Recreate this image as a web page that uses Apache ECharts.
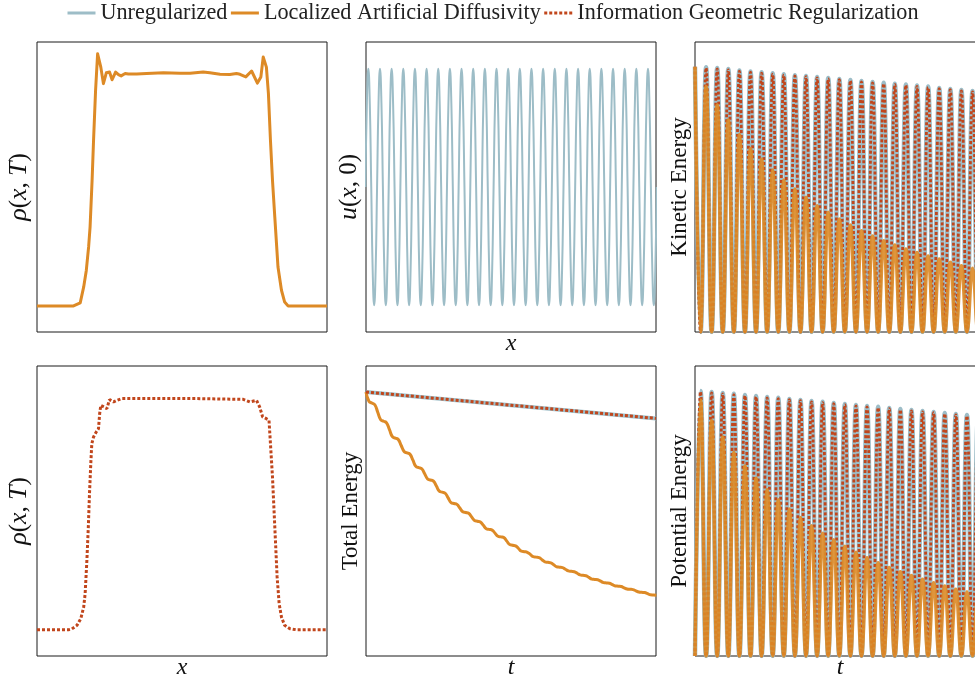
<!DOCTYPE html>
<html><head><meta charset="utf-8">
<script src="https://cdn.jsdelivr.net/npm/echarts@6/dist/echarts.min.js"></script>
<style>html,body{margin:0;padding:0;background:#fff}#c{width:975px;height:679px}</style>
</head><body><div id="c"></div>
<script>
// ---------- data ----------
// rho(x,T), Localized Artificial Diffusivity (x in [0,1])
const rhoLadX = [0,0.126,0.132,0.149,0.161,0.170,0.178,0.183,0.190,0.195,0.202,0.209,0.220,0.229,0.239,0.250,0.259,0.271,0.281,0.290,0.304,0.315,0.321,0.344,0.378,0.436,0.493,0.528,0.573,0.596,0.631,0.665,0.688,0.700,0.720,0.740,0.760,0.772,0.780,0.791,0.798,0.805,0.812,0.820,0.831,0.843,0.854,0.866,1];
const rhoLadY = [0.101,0.101,0.097,0.113,0.175,0.239,0.330,0.407,0.589,0.744,0.938,1.080,1.028,0.964,1.006,1.009,0.979,1.009,0.999,0.994,1.003,1.001,0.999,1.001,1.003,1.006,1.004,1.004,1.009,1.006,1.000,0.999,1.003,1.000,0.990,1.013,0.966,0.990,1.067,1.028,0.925,0.744,0.589,0.446,0.252,0.162,0.116,0.101,0.101];
// rho(x,T), Information Geometric Regularization
const rhoIgrX = [0,0.109,0.120,0.138,0.151,0.161,0.166,0.172,0.177,0.181,0.186,0.189,0.195,0.204,0.212,0.216,0.220,0.232,0.241,0.250,0.264,0.275,0.292,0.304,0.436,0.550,0.711,0.734,0.757,0.768,0.778,0.791,0.800,0.805,0.812,0.820,0.828,0.835,0.843,0.854,0.872,0.894,1];
const rhoIgrY = [0.102,0.102,0.105,0.119,0.145,0.190,0.242,0.371,0.501,0.630,0.759,0.824,0.850,0.869,0.882,0.940,0.973,0.966,0.960,0.995,0.986,0.992,0.999,0.999,0.999,0.999,0.996,0.986,0.992,0.966,0.928,0.921,0.915,0.824,0.695,0.501,0.307,0.203,0.151,0.119,0.106,0.102,0.102];
// u(x,0): samples every 1/8 period (index = sample number)
const uVals = [
0,0.707,1,0.707,0,-0.707,-1,-0.707, 0,0.707,1,0.707,0,-0.707,-1,-0.707, 0,0.707,1,0.707,0,-0.707,-1,-0.707, 0,0.707,1,0.707,0,-0.707,-1,-0.707, 0,0.707,1,0.707,0,-0.707,-1,-0.707,
0,0.707,1,0.707,0,-0.707,-1,-0.707, 0,0.707,1,0.707,0,-0.707,-1,-0.707, 0,0.707,1,0.707,0,-0.707,-1,-0.707, 0,0.707,1,0.707,0,-0.707,-1,-0.707, 0,0.707,1,0.707,0,-0.707,-1,-0.707,
0,0.707,1,0.707,0,-0.707,-1,-0.707, 0,0.707,1,0.707,0,-0.707,-1,-0.707, 0,0.707,1,0.707,0,-0.707,-1,-0.707, 0,0.707,1,0.707,0,-0.707,-1,-0.707, 0,0.707,1,0.707,0,-0.707,-1,-0.707,
0,0.707,1,0.707,0,-0.707,-1,-0.707, 0,0.707,1,0.707,0,-0.707,-1,-0.707, 0,0.707,1,0.707,0,-0.707,-1,-0.707, 0,0.707,1,0.707,0,-0.707,-1,-0.707, 0,0.707,1,0.707,0,-0.707,-1,-0.707,
0,0.707,1,0.707,0,-0.707,-1,-0.707, 0,0.707,1,0.707,0,-0.707,-1,-0.707, 0,0.707,1,0.707,0,-0.707,-1,-0.707, 0,0.707,1,0.707,0,-0.707,-1,-0.707, 0,0.707,1,0.707,0,-0.707,-1,-0.707,
0];
// Kinetic energy, one value per half period
const keUnreg = [1.000,0,0.998,0,0.995,0,0.991,0,0.986,0,0.982,0,0.979,0,0.975,0,0.971,0,0.968,0,0.965,0,0.961,0,0.957,0,0.954,0,0.950,0,0.946,0,0.942,0,0.939,0,0.936,0,0.933,0,0.929,0,0.925,0,0.920,0,0.916,0,0.912,0,0.908,0,0.905,0];
const keIgr   = [1.000,0,0.995,0,0.992,0,0.988,0,0.983,0,0.979,0,0.976,0,0.972,0,0.968,0,0.965,0,0.962,0,0.958,0,0.954,0,0.951,0,0.947,0,0.943,0,0.939,0,0.936,0,0.933,0,0.930,0,0.926,0,0.922,0,0.917,0,0.913,0,0.909,0,0.905,0,0.902,0];
const keLad   = [1.000,0,0.925,0,0.856,0,0.799,0,0.743,0,0.692,0,0.651,0,0.611,0,0.573,0,0.539,0,0.508,0,0.476,0,0.451,0,0.426,0,0.403,0,0.382,0,0.362,0,0.344,0,0.328,0,0.313,0,0.300,0,0.286,0,0.275,0,0.263,0,0.250,0,0.240,0,0.230,0];
// Potential energy, one value per half period
const peUnreg = [0,0.999,0,0.995,0,0.991,0,0.988,0,0.984,0,0.980,0,0.976,0,0.973,0,0.969,0,0.965,0,0.961,0,0.958,0,0.954,0,0.950,0,0.946,0,0.942,0,0.939,0,0.935,0,0.931,0,0.927,0,0.923,0,0.920,0,0.916,0,0.912,0,0.908,0,0.905,0,0.901];
const peIgr   = [0,0.996,0,0.992,0,0.988,0,0.985,0,0.981,0,0.977,0,0.973,0,0.970,0,0.966,0,0.962,0,0.958,0,0.955,0,0.951,0,0.947,0,0.943,0,0.939,0,0.936,0,0.932,0,0.928,0,0.924,0,0.920,0,0.917,0,0.913,0,0.909,0,0.905,0,0.902,0,0.898];
const peLad   = [0,0.965,0,0.887,0,0.825,0,0.767,0,0.716,0,0.670,0,0.628,0,0.589,0,0.554,0,0.522,0,0.491,0,0.463,0,0.438,0,0.414,0,0.391,0,0.370,0,0.351,0,0.334,0,0.318,0,0.303,0,0.289,0,0.276,0,0.264,0,0.252,0,0.242,0,0.233,0,0.224];
// Total energy
const teEndsT  = [0, 98.87];
const teUnreg  = [1.000, 0.900];
const teIgr    = [1.000, 0.900];
const teLad = [1.000,0.9648,0.9583,0.9519,0.9235,0.8951,0.8890,0.8830,0.8572,0.8307,0.8254,0.8201,0.7973,0.7746,0.7697,0.7644,0.7417,0.7182,0.7136,0.7091,0.6902,0.6708,0.6667,0.6625,0.6436,0.6246,0.6205,0.6163,0.5989,0.5811,0.5777,0.5742,0.5606,0.5466,0.5436,0.5405,0.5269,0.5136,0.5106,0.5076,0.4951,0.4822,0.4795,0.4769,0.4652,0.4538,0.4511,0.4485,0.4352,0.4223,0.4197,0.4170,0.4072,0.3970,0.3951,0.3928,0.3848,0.3765,0.3746,0.3727,0.3648,0.3568,0.3549,0.3530,0.3455,0.3379,0.3364,0.3348,0.3284,0.3223,0.3208,0.3193,0.3133,0.3072,0.3057,0.3042,0.2977,0.2913,0.2902,0.2890,0.2833,0.2780,0.2769,0.2758,0.2705,0.2655,0.2644,0.2633,0.2583,0.2538,0.2527,0.2515,0.2470,0.2424,0.2413,0.2402,0.2360,0.2318,0.2311,0.2303];

const NAMES = ['Unregularized','Localized Artificial Diffusivity','Information Geometric Regularization'];

// ---------- styling ----------
const FONT = '"Liberation Serif","Times New Roman",serif';
const C_BLUE = '#9dbdc7', C_ORANGE = '#dd8a26', C_RED = '#c1461c';
const DOT = [3, 2];

const zip = (xs, ys) => xs.map((x, i) => [x, ys[i]]);
const idx = (ys) => ys.map((y, i) => [i, y]);

const boxes = [[37,42],[366,42],[695,42],[37,366],[366,366],[695,366]];
const grid = boxes.map(b => ({left:b[0], top:b[1], width:290, height:290, show:true,
  borderColor:'#1a1a1a', borderWidth:1, backgroundColor:'transparent', containLabel:false, outerBoundsMode:'none'}));

const hidden = {axisLine:{show:false}, axisTick:{show:false}, axisLabel:{show:false}, splitLine:{show:false}};
const xAxis = [], yAxis = [];
function axes(gi, xr, yr, xName, yName, yGap, ySize) {
  xAxis.push(Object.assign({type:'value', gridIndex:gi, min:xr[0], max:xr[1], name:xName || '', nameLocation:'middle', nameGap:0,
    nameTextStyle:{fontFamily:FONT, fontStyle:'italic', fontSize:24, color:'#111'}}, hidden));
  yAxis.push(Object.assign({type:'value', gridIndex:gi, min:yr[0], max:yr[1], name:yName, nameLocation:'middle', nameRotate:90, nameGap:yGap,
    nameTextStyle:{fontFamily:FONT, fontSize:ySize, color:'#111', rich:{i:{fontFamily:FONT, fontStyle:'italic', fontSize:ySize + 1, color:'#111'}}}}, hidden));
}
axes(0, [0,1], [0,1.1255], '', '{i|ρ}({i|x}, {i|T})', 5, 25);
axes(1, [0.4,199.5], [-1.225,1.225], 'x', '{i|u}({i|x}, 0)', 4, 25);
axes(2, [0,52.25], [0,1.093], '', 'Kinetic Energy', 4, 23);
axes(3, [0,1], [0,1.1255], 'x', '{i|ρ}({i|x}, {i|T})', 5, 25);
axes(4, [0,98.87], [0,1.0985], 't', 'Total Energy', 4, 23);
axes(5, [0,52.25], [0,1.093], 't', 'Potential Energy', 4, 23);

function line(gi, name, data, color, width, opts) {
  return Object.assign({type:'line', name, xAxisIndex:gi, yAxisIndex:gi, data, symbol:'none', showSymbol:false,
    lineStyle:{color, width, cap:'butt', join:'round'}, itemStyle:{color}, clip:true, silent:true}, opts || {});
}
const series = [
  line(4, NAMES[0], zip(teEndsT, teUnreg), C_BLUE, 4, {z:2}),
  line(0, NAMES[1], zip(rhoLadX, rhoLadY), C_ORANGE, 3, {z:3}),
  line(4, NAMES[2], zip(teEndsT, teIgr), C_RED, 3, {z:4, lineStyle:{color:C_RED, width:3, type:DOT, cap:'butt'}}),
  line(1, NAMES[0], idx(uVals), C_BLUE, 2, {smooth:0.5, z:2}),
  line(4, NAMES[1], idx(teLad), C_ORANGE, 3, {smooth:0.5, z:3}),
  line(3, NAMES[2], zip(rhoIgrX, rhoIgrY), C_RED, 3, {z:4, lineStyle:{color:C_RED, width:3, type:DOT, cap:'butt'}}),
  line(2, NAMES[0], idx(keUnreg), C_BLUE, 4.5, {smooth:0.45, z:2}),
  line(2, NAMES[2], idx(keIgr), C_RED, 2.8, {smooth:0.45, z:3, lineStyle:{color:C_RED, width:2.8, type:DOT, cap:'butt'}}),
  line(2, NAMES[1], idx(keLad), C_ORANGE, 3.5, {smooth:0.45, z:4, lineStyle:{color:C_ORANGE, width:3.5, opacity:0.9}}),
  line(5, NAMES[0], idx(peUnreg), C_BLUE, 4.5, {smooth:0.45, z:2}),
  line(5, NAMES[2], idx(peIgr), C_RED, 2.8, {smooth:0.45, z:3, lineStyle:{color:C_RED, width:2.8, type:DOT, cap:'butt'}}),
  line(5, NAMES[1], idx(peLad), C_ORANGE, 3.5, {smooth:0.45, z:4, lineStyle:{color:C_ORANGE, width:3.5, opacity:0.9}})
];

const chart = echarts.init(document.getElementById('c'), null, {renderer:'canvas'});
chart.setOption({
  animation:false,
  backgroundColor:'#fff',
  legend:{data:NAMES, top:2, left:66, padding:0, itemWidth:28, itemHeight:20, itemGap:2, selectedMode:false,
    itemStyle:{opacity:0, borderWidth:0}, lineStyle:{width:3},
    textStyle:{fontFamily:FONT, fontSize:22.2, color:'#222'}},
  grid, xAxis, yAxis, series
});
</script></body></html>
